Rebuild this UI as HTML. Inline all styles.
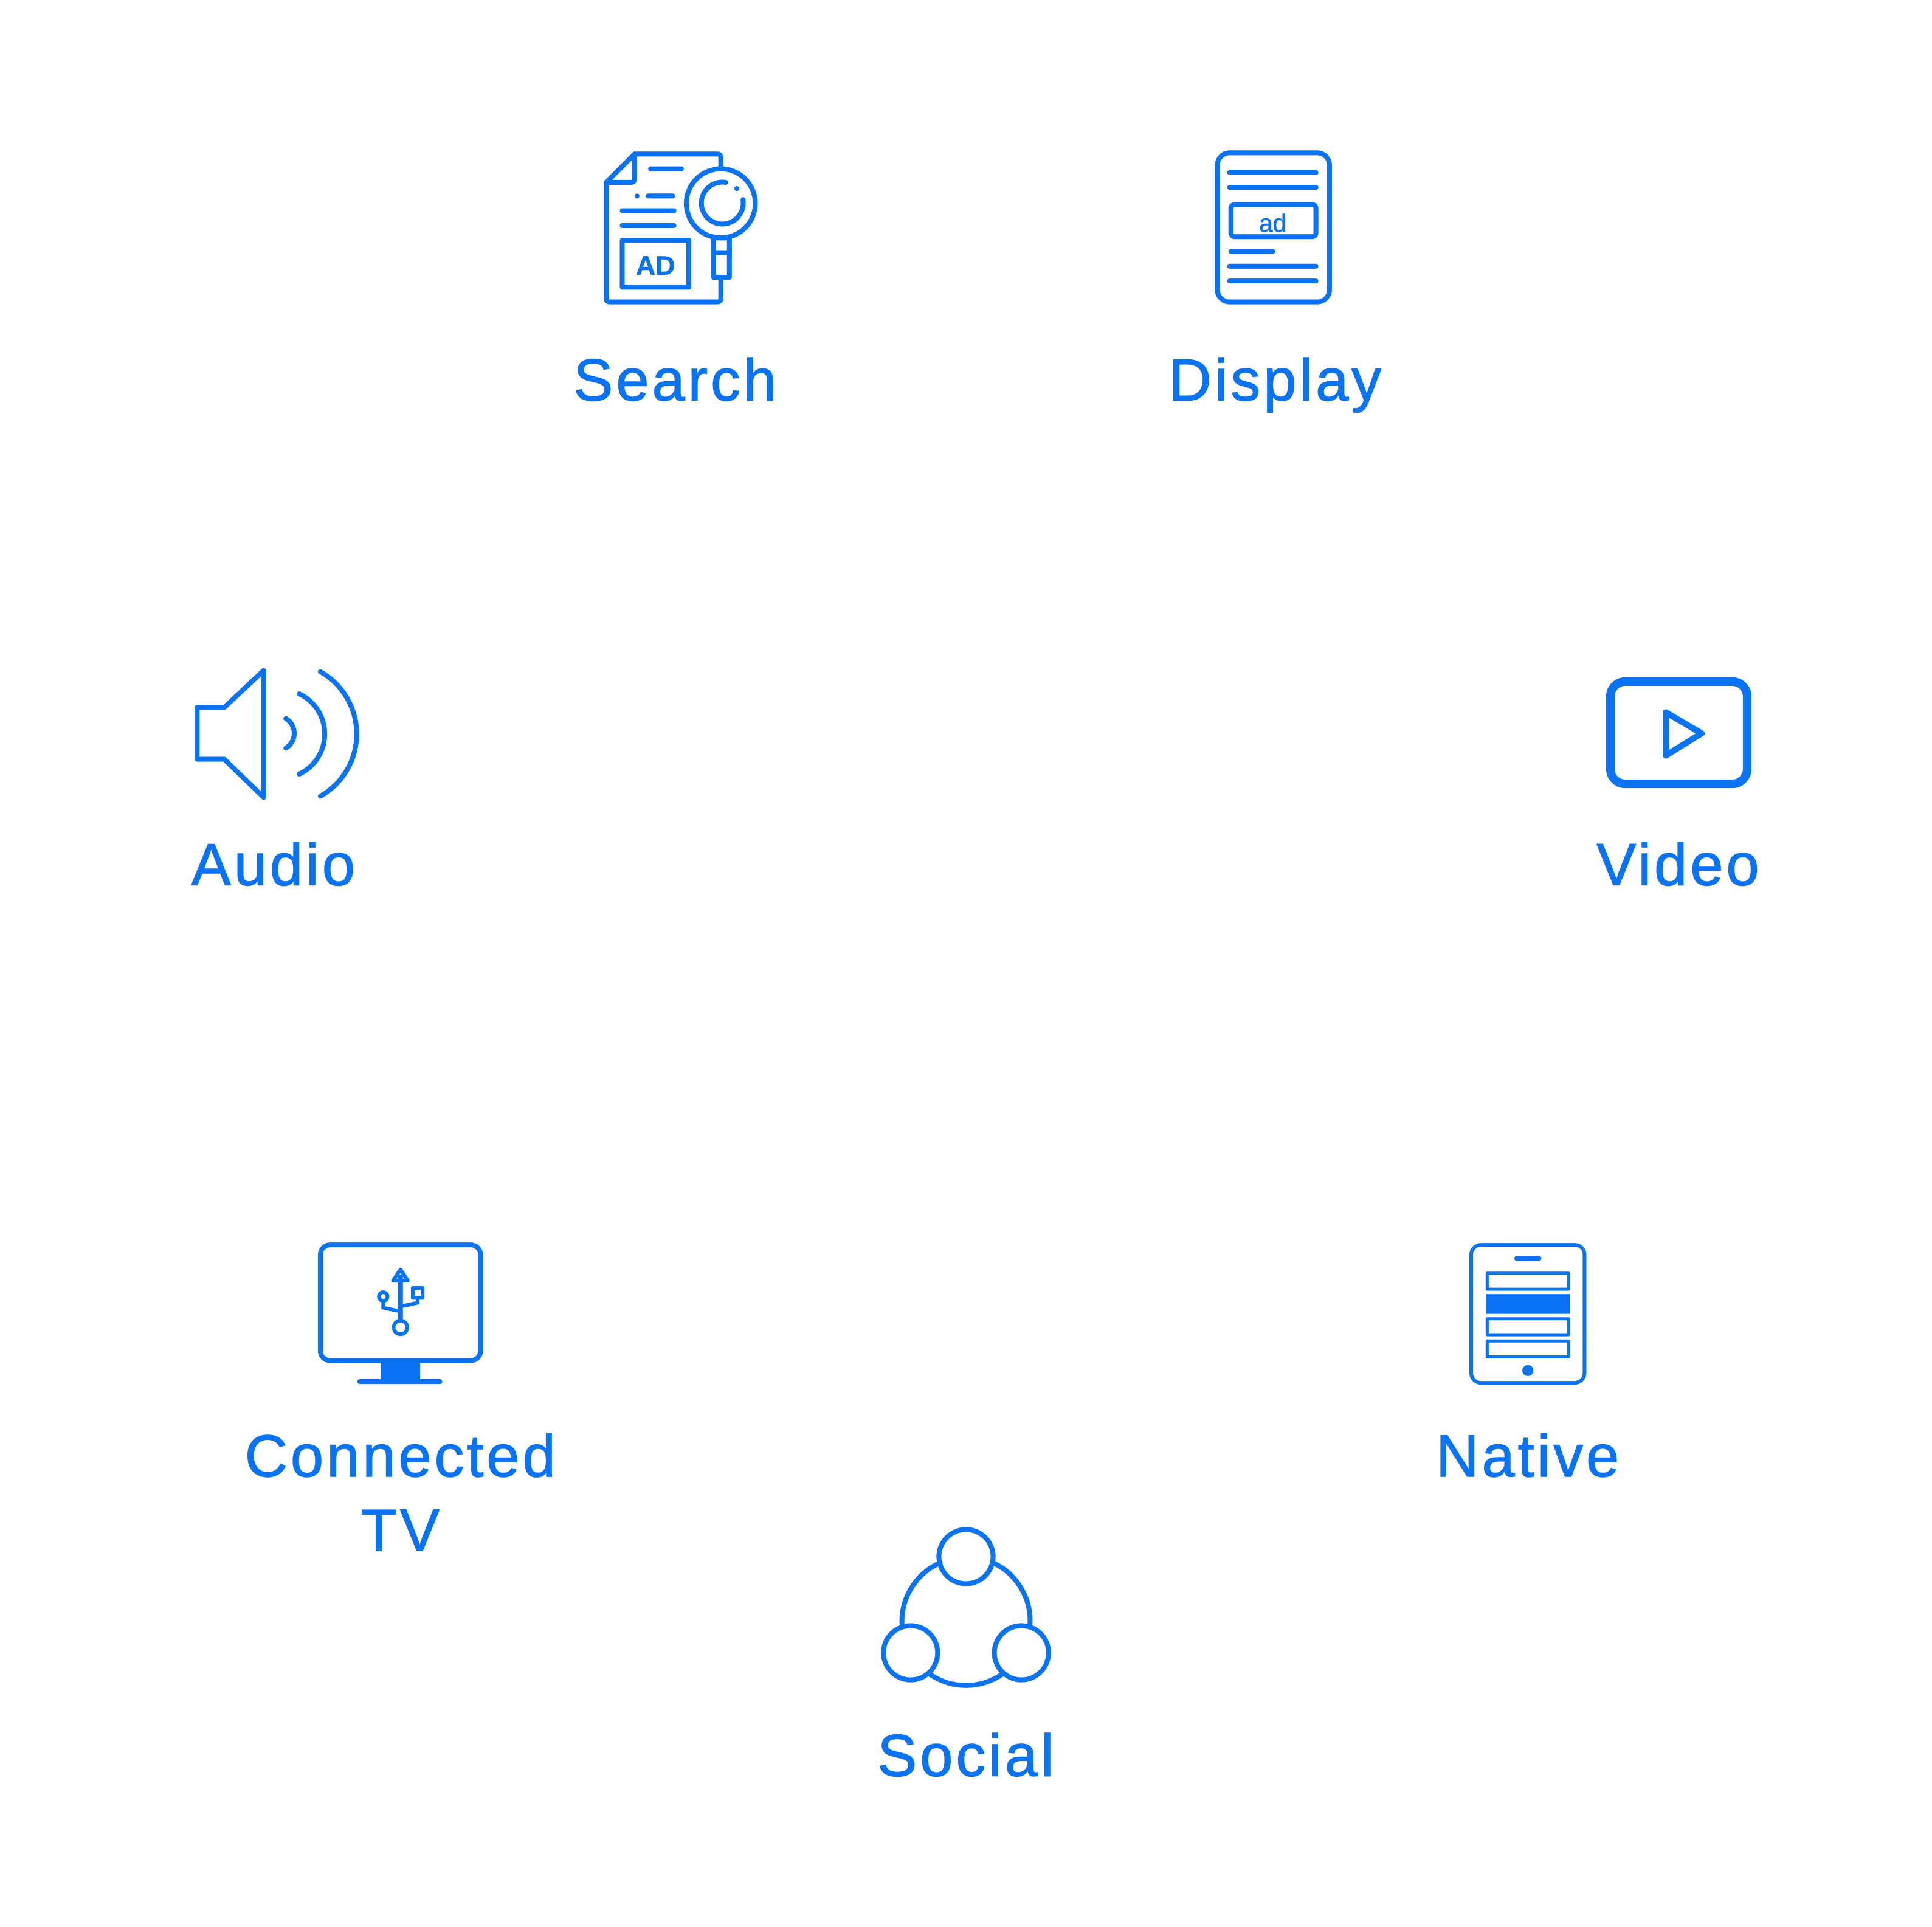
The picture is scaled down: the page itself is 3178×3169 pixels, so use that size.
<!DOCTYPE html>
<html><head><meta charset="utf-8"><style>
html,body{margin:0;padding:0;background:#fff;}
svg{display:block;}
text{font-family:"Liberation Sans",sans-serif;fill:#0a73f5;stroke:#0a73f5;stroke-width:0.7;text-anchor:middle;}
</style></head><body>
<svg width="3178" height="3169" viewBox="0 0 1568 1563.5" preserveAspectRatio="none">
<g fill="none" stroke="#0a73f5" stroke-width="4" stroke-linecap="round" stroke-linejoin="round">
<path d="M585,137 V128 Q585,125 582,125 H515 L492,148 V242 Q492,245 495,245 H582 Q585,245 585,242 V227"/>
<path d="M492,148 H512 Q515,148 515,145 V125"/>
<line x1="528" y1="137" x2="553" y2="137"/>
<line x1="517" y1="159" x2="517" y2="159"/>
<line x1="526" y1="159" x2="546" y2="159"/>
<line x1="505" y1="171" x2="547" y2="171"/>
<line x1="505" y1="183" x2="547" y2="183"/>
<rect x="505" y="195" width="54" height="38"/>
<circle cx="585" cy="165" r="28"/>
<path d="M589,148 A17,17 0 1 0 603,162"/>
<line x1="598" y1="153" x2="598" y2="153"/>
<rect x="579" y="193" width="13" height="32"/>
<line x1="579" y1="205" x2="592" y2="205"/>
<rect x="988" y="124" width="91" height="121" rx="10"/>
<line x1="998" y1="140" x2="1068" y2="140"/>
<line x1="998" y1="152" x2="1068" y2="152"/>
<rect x="999" y="166" width="69" height="26" rx="3"/>
<line x1="999" y1="204" x2="1033" y2="204"/>
<line x1="998" y1="216" x2="1068" y2="216"/>
<line x1="998" y1="228" x2="1068" y2="228"/>
<path d="M160,574 H182 L214,544 V647 L182,616 H160 Z"/>
<path d="M232,583 A14,14 0 0 1 232,607"/>
<path d="M243,563 A36,36 0 0 1 243,628"/>
<path d="M260,545 A58,58 0 0 1 260,646"/>
<rect x="1307" y="553" width="111" height="83" rx="12" stroke-width="7"/>
<path d="M1352,578 L1381,595 L1352,613 Z" stroke-width="5"/>
<rect x="260" y="1010" width="130" height="94" rx="8"/>
<line x1="292" y1="1121" x2="357" y2="1121"/>
<line x1="325" y1="1036" x2="325" y2="1071"/>
<path d="M319,1039 L325,1030 L331,1039 Z" stroke-width="3"/>
<circle cx="325" cy="1077" r="5.5" stroke-width="3"/>
<circle cx="311" cy="1052" r="3.5" stroke-width="3"/>
<path d="M311,1056 V1061 L325,1064" stroke-width="3"/>
<rect x="335" y="1045" width="8" height="8" stroke-width="3"/>
<path d="M339,1053 V1057 L325,1060" stroke-width="3"/>
<rect x="1194" y="1010" width="92" height="112" rx="8" stroke-width="3"/>
<line x1="1231" y1="1021" x2="1249" y2="1021"/>
<rect x="1207" y="1033" width="66" height="13" stroke-width="2.5"/>
<rect x="1207" y="1070" width="66" height="13" stroke-width="2.5"/>
<rect x="1207" y="1088" width="66" height="13" stroke-width="2.5"/>
<path d="M763,1268 A52,52 0 0 0 732,1317"/>
<path d="M806,1268 A52,52 0 0 1 836,1317"/>
<path d="M754,1358 A52,52 0 0 0 814,1358"/>
<circle cx="784" cy="1263" r="22"/>
<circle cx="739" cy="1341" r="22"/>
<circle cx="829" cy="1341" r="22"/>
</g>
<g fill="#0a73f5">
<rect x="309" y="1104" width="32" height="16"/>
<rect x="1206" y="1050" width="68" height="16"/>
<circle cx="1240" cy="1112" r="4.5"/>
</g>
<text x="532" y="223" style="font-size:22px;font-weight:bold;stroke-width:0.3">AD</text>
<text x="1033" y="188" style="font-size:20px;stroke-width:0.3">ad</text>
<g style="font-size:48px;letter-spacing:2.5px">
<text x="549" y="325">Search</text>
<text x="1036" y="325">Display</text>
<text x="223" y="718">Audio</text>
<text x="1363" y="718">Video</text>
<text x="326" y="1198">Connected</text>
<text x="326" y="1258">TV</text>
<text x="1241" y="1198">Native</text>
<text x="785" y="1441">Social</text>
</g>
</svg>
</body></html>
